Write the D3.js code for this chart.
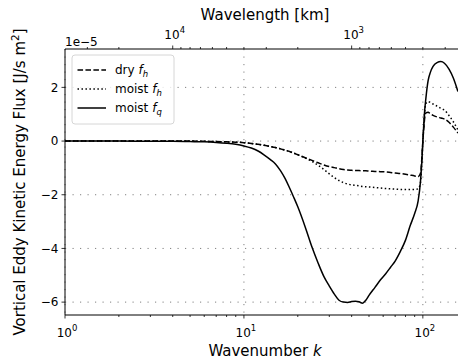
<!DOCTYPE html>
<html>
<head>
<meta charset="utf-8">
<script src="https://cdn.jsdelivr.net/npm/d3@7"></script>
<style>
  body { margin: 0; background: #fff; }
  text { font-family: "DejaVu Sans", sans-serif; fill: #000; }
</style>
</head>
<body>
<svg id="chart" width="458" height="362"></svg>
<script>
// Zonal wavenumber grid
const wavenumber = [1, 2, 3, 4, 5, 6, 7, 8, 9, 10, 11, 12, 13, 14, 15, 16, 17, 18, 19, 20,
  22, 24, 26, 28, 30, 32, 34, 36, 38, 40, 42, 44, 46, 48, 50, 54, 58, 62, 66, 70,
  75, 80, 85, 90, 94, 97, 99, 100, 101, 102, 104, 107, 110, 114, 120, 126, 132, 140, 148, 157];

// Vortical eddy kinetic energy flux, units of 1e-5 J/s m^2
const dryFh = [0, 0, 0, 0, 0, -0.01, -0.02, -0.03, -0.04, -0.06, -0.09, -0.12, -0.16, -0.2, -0.24, -0.29, -0.34, -0.39, -0.45, -0.51,
  -0.62, -0.72, -0.81, -0.89, -0.95, -0.99, -1.03, -1.06, -1.08, -1.09, -1.1, -1.1, -1.11, -1.11, -1.12, -1.13, -1.14, -1.15, -1.17, -1.19,
  -1.21, -1.24, -1.27, -1.3, -1.33, -1.2, -0.5, 0, 0.4, 0.75, 1.05, 1.07, 1.02, 0.96, 0.9, 0.86, 0.82, 0.7, 0.52, 0.3];

const moistFh = [0, 0, 0, 0, 0, -0.01, -0.02, -0.03, -0.04, -0.06, -0.09, -0.12, -0.16, -0.2, -0.24, -0.29, -0.34, -0.39, -0.45, -0.51,
  -0.63, -0.76, -0.9, -1.06, -1.22, -1.36, -1.47, -1.55, -1.6, -1.63, -1.65, -1.67, -1.69, -1.7, -1.71, -1.73, -1.75, -1.77, -1.78, -1.79,
  -1.8, -1.8, -1.8, -1.8, -1.78, -1.55, -0.6, 0, 0.5, 0.95, 1.4, 1.47, 1.44, 1.38, 1.3, 1.22, 1.15, 0.95, 0.72, 0.42];

const moistFq = [0, 0, -0.01, -0.01, -0.02, -0.03, -0.05, -0.08, -0.12, -0.18, -0.26, -0.37, -0.52, -0.68, -0.85, -1.1, -1.4, -1.75, -2.1, -2.45,
  -3.2, -3.95, -4.55, -5.05, -5.4, -5.7, -5.93, -6.0, -6.01, -5.98, -5.97, -5.99, -6.04, -5.93, -5.75, -5.45, -5.17, -4.94, -4.7, -4.47,
  -4.1, -3.69, -3.15, -2.7, -2.25, -1.5, -0.6, 0, 0.5, 1.0, 1.6, 2.25, 2.55, 2.78, 2.92, 2.96, 2.9, 2.68, 2.35, 1.85];

const yTicks = [-6, -4, -2, 0, 2];
const kMajorTicks = [1, 10, 100];
const kMinorTicks = [2, 3, 4, 5, 6, 7, 8, 9, 20, 30, 40, 50, 60, 70, 80, 90];
const lambdaMajorTicks = [10000, 1000];
const lambdaMinorTicks = [30000, 20000, 9000, 8000, 7000, 6000, 5000, 4000, 3000, 2000,
  900, 800, 700, 600, 500, 400, 300];
const earthCircumference = 40000; // km, wavelength = circumference / k

const series = [
  { label: "dry", sub: "h", values: dryFh, dash: "5.55,2.4" },
  { label: "moist", sub: "h", values: moistFh, dash: "1.5,2.475" },
  { label: "moist", sub: "q", values: moistFq, dash: null }
];

const svg = d3.select("#chart");
const L = 65, R = 465, T = 49, B = 315;

const x = d3.scaleLog().domain([1, 172]).range([L, R]);
const xTop = d3.scaleLog().domain([earthCircumference, earthCircumference / 172]).range([L, R]);
const y = d3.scaleLinear().domain([-6.48, 3.43]).range([B, T]);

svg.append("defs").append("clipPath").attr("id", "plotClip")
  .append("rect").attr("x", L).attr("y", T).attr("width", R - L).attr("height", B - T);

// Grid
const grid = svg.append("g").attr("stroke", "#808080").attr("stroke-width", 1)
  .attr("stroke-dasharray", "1.2,6.3");
grid.selectAll("line.h").data(yTicks).join("line")
  .attr("x1", L).attr("x2", R).attr("y1", d => y(d)).attr("y2", d => y(d));
grid.selectAll("line.v").data(kMajorTicks).join("line")
  .attr("x1", d => x(d)).attr("x2", d => x(d)).attr("y1", T).attr("y2", B);

// Curves
const line = d3.line()
  .x((d, i) => x(wavenumber[i]))
  .y(d => y(d))
  .curve(d3.curveMonotoneX);

const curves = svg.append("g").attr("clip-path", "url(#plotClip)");
series.forEach(s => {
  curves.append("path")
    .attr("d", line(s.values))
    .attr("fill", "none")
    .attr("stroke", "#000")
    .attr("stroke-width", 1.5)
    .attr("stroke-dasharray", s.dash);
});

// Spines
const axes = svg.append("g").attr("stroke", "#000").attr("stroke-width", 1);
axes.append("line").attr("x1", L).attr("x2", L).attr("y1", T).attr("y2", B);
axes.append("line").attr("x1", L).attr("x2", R).attr("y1", B).attr("y2", B);
axes.append("line").attr("x1", L).attr("x2", R).attr("y1", T).attr("y2", T);
axes.append("line").attr("x1", R).attr("x2", R).attr("y1", T).attr("y2", B);

// Tick marks
const ticks = svg.append("g").attr("stroke", "#000").attr("stroke-width", 0.8);
ticks.selectAll("line.bmaj").data(kMajorTicks).join("line")
  .attr("x1", d => x(d)).attr("x2", d => x(d)).attr("y1", B).attr("y2", B + 3.5);
ticks.selectAll("line.bmin").data(kMinorTicks).join("line")
  .attr("x1", d => x(d)).attr("x2", d => x(d)).attr("y1", B).attr("y2", B + 2);
ticks.selectAll("line.tmaj").data(lambdaMajorTicks).join("line")
  .attr("x1", d => xTop(d)).attr("x2", d => xTop(d)).attr("y1", T).attr("y2", T - 3.5);
ticks.selectAll("line.tmin").data(lambdaMinorTicks).join("line")
  .attr("x1", d => xTop(d)).attr("x2", d => xTop(d)).attr("y1", T).attr("y2", T - 2);
ticks.selectAll("line.l").data(yTicks).join("line")
  .attr("x1", L - 3.5).attr("x2", L).attr("y1", d => y(d)).attr("y2", d => y(d));

// Power-of-ten labels
function powerLabel(g, px, py, exp) {
  const t = g.append("text").attr("x", px).attr("y", py).attr("text-anchor", "middle")
    .attr("font-size", 12);
  t.append("tspan").text("10");
  t.append("tspan").attr("font-size", 8.5).attr("dy", -5.5).text(exp);
}
const labels = svg.append("g");
kMajorTicks.forEach(k => powerLabel(labels, x(k) + 2, 336.5, String(Math.round(Math.log10(k)))));
lambdaMajorTicks.forEach(l => powerLabel(labels, xTop(l) + 2, 38.5, String(Math.round(Math.log10(l)))));

labels.selectAll("text.y").data(yTicks).join("text")
  .attr("x", L - 6.5).attr("y", d => y(d)).attr("dy", "0.36em")
  .attr("text-anchor", "end").attr("font-size", 12)
  .text(d => d3.format("d")(d).replace("-", "\u2212"));

labels.append("text").attr("x", L).attr("y", 45.5).attr("font-size", 12).text("1e\u22125");

// Axis titles
const xt = labels.append("text").attr("x", (L + R) / 2).attr("y", 356)
  .attr("text-anchor", "middle").attr("font-size", 15);
xt.append("tspan").text("Wavenumber ");
xt.append("tspan").attr("font-style", "italic").text("k");

labels.append("text").attr("x", (L + R) / 2).attr("y", 19.5)
  .attr("text-anchor", "middle").attr("font-size", 15).text("Wavelength [km]");

const yt = labels.append("text")
  .attr("transform", `translate(25,${(T + B) / 2}) rotate(-90)`)
  .attr("text-anchor", "middle").attr("font-size", 15);
yt.append("tspan").text("Vortical Eddy Kinetic Energy Flux [J/s m");
yt.append("tspan").attr("font-size", 10.5).attr("dy", -6).text("2");
yt.append("tspan").attr("dy", 6).text("]");

// Legend
const leg = svg.append("g");
leg.append("rect").attr("x", 72).attr("y", 55).attr("width", 102).attr("height", 69)
  .attr("rx", 3).attr("fill", "#fff").attr("fill-opacity", 0.8)
  .attr("stroke", "#d6d6d6").attr("stroke-width", 1);
series.forEach((s, i) => {
  const ry = 70 + i * 19;
  leg.append("line").attr("x1", 77.5).attr("x2", 106).attr("y1", ry).attr("y2", ry)
    .attr("stroke", "#000").attr("stroke-width", 1.5).attr("stroke-dasharray", s.dash);
  const t = leg.append("text").attr("x", 115).attr("y", ry).attr("dy", "0.36em").attr("font-size", 12);
  t.append("tspan").text(s.label + " ");
  t.append("tspan").attr("font-style", "italic").text("f");
  t.append("tspan").attr("font-style", "italic").attr("font-size", 8.5).attr("dy", 3).text(s.sub);
});
</script>
</body>
</html>
